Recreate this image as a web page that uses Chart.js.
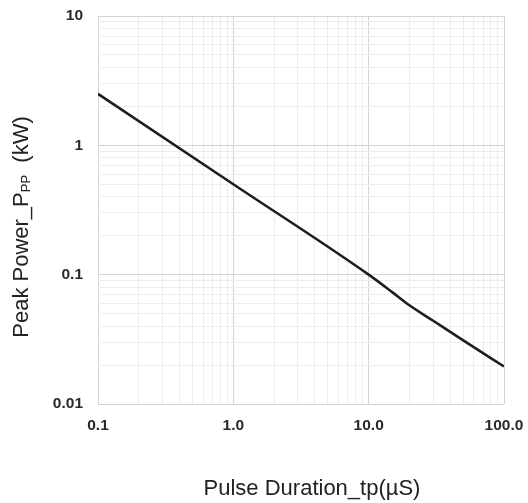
<!DOCTYPE html>
<html>
<head>
<meta charset="utf-8">
<script src="https://cdn.jsdelivr.net/npm/chart.js@4.4.1/dist/chart.umd.min.js"></script>
<style>
  html, body { margin: 0; padding: 0; background: #fff; }
  #wrap { width: 528px; height: 503px; }
</style>
</head>
<body>
<div id="wrap"><canvas id="chart"></canvas></div>
<script>
// Peak power vs pulse duration (log-log)
const pulseDuration = [0.1, 1, 10, 15, 20, 30, 50, 100];                 // tp, µS
const peakPower = [2.5, 0.5, 0.1, 0.073, 0.058, 0.044, 0.031, 0.0195];   // Ppp, kW

const xMajorTicks = [0.1, 1, 10, 100];
const xTickLabels = ['0.1', '1.0', '10.0', '100.0'];
const yMajorTicks = [0.01, 0.1, 1, 10];
const yTickLabels = ['0.01', '0.1', '1', '10'];

const xTitle = 'Pulse Duration_tp(\u00B5S)';
const yTitleMain = 'Peak Power_P';
const yTitleSub = 'PP';
const yTitleEnd = '  (kW)';

const FONT = '"Liberation Sans", Arial, sans-serif';

// minor grid positions 1..9 in each decade
function decadeTicks(majors) {
    const out = [];
    for (let i = 0; i < majors.length - 1; i++) {
        for (let k = 1; k < 10; k++) out.push(+(majors[i] * k).toPrecision(3));
    }
    out.push(majors[majors.length - 1]);
    return out;
}

function isMajor(v, majors) {
    return majors.some(m => Math.abs(m - v) / m < 1e-6);
}

function labelFor(v, majors, labels) {
    const i = majors.findIndex(m => Math.abs(m - v) / m < 1e-6);
    return i >= 0 ? labels[i] : '';
}

// draws the two axis titles (y title needs a subscript)
const titlesPlugin = {
    id: 'titles',
    afterDraw(chart) {
        const ctx = chart.ctx;
        ctx.save();
        ctx.fillStyle = '#222';
        ctx.textBaseline = 'middle';

        ctx.font = '22px ' + FONT;
        ctx.textAlign = 'center';
        ctx.fillText(xTitle, 312, 489);

        // rotated y title
        const bigFont = '22px ' + FONT;
        const smallFont = '13px ' + FONT;
        ctx.font = bigFont;
        const w1 = ctx.measureText(yTitleMain).width;
        const w3 = ctx.measureText(yTitleEnd).width;
        ctx.font = smallFont;
        const w2 = ctx.measureText(yTitleSub).width;
        const total = w1 + w2 + w3;

        ctx.translate(22, 227);
        ctx.rotate(-Math.PI / 2);
        ctx.textAlign = 'left';
        let x = -total / 2;
        ctx.font = bigFont;
        ctx.fillText(yTitleMain, x, 0);
        x += w1;
        ctx.font = smallFont;
        ctx.fillText(yTitleSub, x, 4);
        x += w2;
        ctx.font = bigFont;
        ctx.fillText(yTitleEnd, x, 0);
        ctx.restore();
    }
};

new Chart(document.getElementById('chart'), {
    type: 'line',
    data: {
        datasets: [{
            data: pulseDuration.map((x, i) => ({ x, y: peakPower[i] })),
            borderColor: '#1e1e1e',
            borderWidth: 2.6,
            pointRadius: 0,
            fill: false,
            cubicInterpolationMode: 'monotone'
        }]
    },
    options: {
        responsive: true,
        maintainAspectRatio: false,
        animation: false,
        layout: { padding: { top: 16, right: 24, left: 0, bottom: 0 } },
        plugins: {
            legend: { display: false },
            tooltip: { enabled: false }
        },
        scales: {
            x: {
                type: 'logarithmic',
                min: 0.1,
                max: 100,
                afterBuildTicks: axis => {
                    axis.ticks = decadeTicks(xMajorTicks).map(value => ({ value }));
                },
                afterFit: axis => {
                    axis.height = 99;
                    axis.paddingLeft = 0;
                    axis.paddingRight = 0;
                },
                border: { display: false },
                grid: {
                    drawTicks: false,
                    color: ctx => isMajor(ctx.tick.value, xMajorTicks) ? '#d4d4d4' : '#ededed',
                    lineWidth: 1
                },
                ticks: {
                    autoSkip: false,
                    maxRotation: 0,
                    padding: 12,
                    color: '#2a2a2a',
                    font: { family: FONT, size: 15.5, weight: 'bold' },
                    callback: v => labelFor(v, xMajorTicks, xTickLabels)
                }
            },
            y: {
                type: 'logarithmic',
                min: 0.01,
                max: 10,
                afterBuildTicks: axis => {
                    axis.ticks = decadeTicks(yMajorTicks).map(value => ({ value }));
                },
                afterFit: axis => {
                    axis.width = 98;
                    axis.paddingTop = 0;
                    axis.paddingBottom = 0;
                },
                border: { display: false },
                grid: {
                    drawTicks: false,
                    color: ctx => isMajor(ctx.tick.value, yMajorTicks) ? '#d4d4d4' : '#ededed',
                    lineWidth: 1
                },
                ticks: {
                    autoSkip: false,
                    padding: 15,
                    color: '#2a2a2a',
                    font: { family: FONT, size: 15.5, weight: 'bold' },
                    callback: v => labelFor(v, yMajorTicks, yTickLabels)
                }
            }
        }
    },
    plugins: [titlesPlugin]
});
</script>
</body>
</html>
